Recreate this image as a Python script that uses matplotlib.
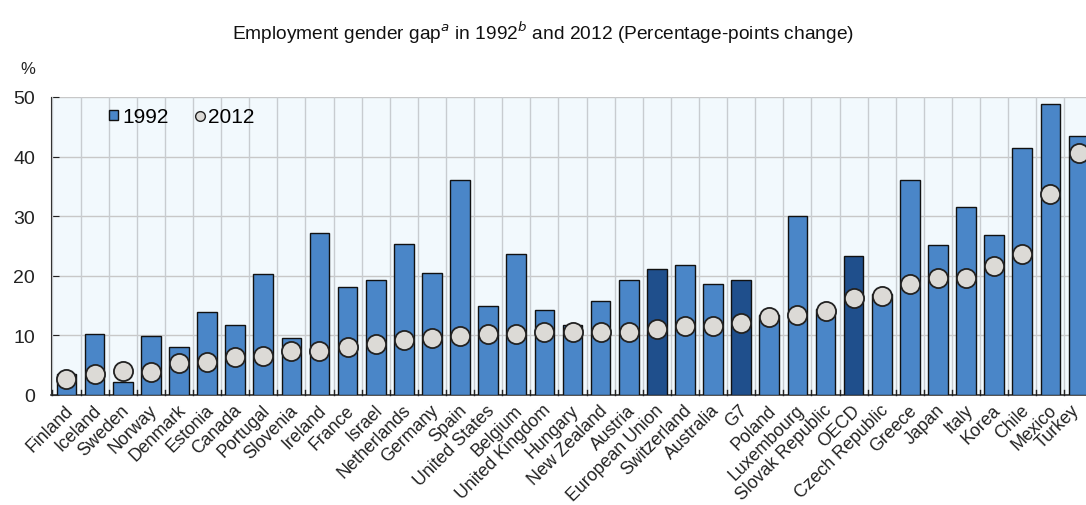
import numpy as np
import matplotlib.pyplot as plt
from matplotlib.lines import Line2D
from matplotlib.patches import Patch

countries = ['Finland', 'Iceland', 'Sweden', 'Norway', 'Denmark', 'Estonia', 'Canada',
             'Portugal', 'Slovenia', 'Ireland', 'France', 'Israel', 'Netherlands',
             'Germany', 'Spain', 'United States', 'Belgium', 'United Kingdom', 'Hungary',
             'New Zealand', 'Austria', 'European Union', 'Switzerland', 'Australia', 'G7',
             'Poland', 'Luxembourg', 'Slovak Republic', 'OECD', 'Czech Republic', 'Greece',
             'Japan', 'Italy', 'Korea', 'Chile', 'Mexico', 'Turkey']
gap_1992 = [3.6, 10.2, 2.1, 9.9, 8.1, 14.0, 11.8, 20.3, 9.6, 27.2, 18.1, 19.3, 25.3,
            20.5, 36.0, 14.9, 23.7, 14.3, 11.7, 15.8, 19.3, 21.1, 21.8, 18.6, 19.3,
            13.5, 30.0, 14.5, 23.3, 17.0, 36.0, 25.2, 31.6, 26.8, 41.4, 48.9, 43.5]
gap_2012 = [2.7, 3.6, 4.1, 3.9, 5.3, 5.5, 6.4, 6.5, 7.3, 7.4, 8.1, 8.5, 9.3,
            9.6, 9.9, 10.3, 10.3, 10.6, 10.6, 10.6, 10.6, 11.1, 11.5, 11.5, 12.1,
            13.1, 13.4, 14.1, 16.3, 16.6, 18.7, 19.7, 19.7, 21.6, 23.6, 33.7, 40.6]
aggregates = ['European Union', 'G7', 'OECD']

font = ['Liberation Sans Narrow', 'Liberation Sans', 'DejaVu Sans']
plt.rcParams['font.family'] = font

light = '#4a86c8'
dark = '#1f4f8c'
colors = [dark if c in aggregates else light for c in countries]

fig = plt.figure(figsize=(10.86, 5.06), dpi=100)
ax = fig.add_axes([51 / 1086, 1 - 396 / 506, 1043 / 1086, 298 / 506])
ax.set_facecolor('#f2f9fd')

x = np.arange(len(countries))
ax.bar(x, gap_1992, width=0.7, color=colors, edgecolor='#111111', linewidth=1.0, zorder=3)
ax.scatter(x, gap_2012, s=190, color='#dcdad6', edgecolor='#222222', linewidth=1.3, zorder=4)

ax.set_xlim(-0.55, len(countries) - 0.45)
ax.set_ylim(0, 50)
ax.set_yticks(range(0, 51, 10))
ax.set_xticks(x)
ax.set_xticklabels([])
ax.tick_params(axis='x', length=0)
ax.tick_params(axis='y', direction='in', length=6, labelsize=14, colors='#222222',
               pad=11.5)

# category labels drawn by hand so the last one can be nudged inside the figure
for i, c in enumerate(countries):
    dx = -6 if i == len(countries) - 1 else -1.5
    ax.annotate(c, xy=(x[i], 0), xycoords=('data', 'axes fraction'),
                xytext=(dx, -4.5), textcoords='offset points',
                rotation=45, ha='right', va='top', rotation_mode='anchor',
                fontsize=12.8, color='#222222', annotation_clip=False)

# vertical grid between categories, horizontal grid at ticks
for b in np.arange(-0.5, len(countries), 1.0):
    ax.axvline(b, color='#c8ccd0', linewidth=1.0, zorder=1)
    ax.plot([b, b], [0, 0.9], color='#222222', linewidth=1.0, zorder=5, clip_on=False)
ax.grid(axis='y', color='#c8c8c8', linewidth=1.0, zorder=1)
ax.set_axisbelow(True)

for s in ['top', 'right']:
    ax.spines[s].set_visible(False)
ax.spines['left'].set_color('#333333')
ax.spines['bottom'].set_color('#333333')
ax.spines['bottom'].set_linewidth(1.2)

fig.text(28 / 1086, 1 - 70 / 506, '%', fontsize=12, color='#222222', ha='center', va='center')

handles = [Patch(facecolor=light, edgecolor='#111111', label='1992'),
           Line2D([], [], marker='o', linestyle='none', markersize=7,
                  markerfacecolor='#dcdad6', markeredgecolor='#222222', label='2012')]
leg = ax.legend(handles=handles, loc='upper left', bbox_to_anchor=(0.056, 0.965), ncol=2,
                frameon=False, fontsize=15, handlelength=0.4, handleheight=0.4,
                handletextpad=0.2, columnspacing=1.3, borderpad=0, borderaxespad=0)

fig.text(0.5, 1 - 33 / 506,
         'Employment gender gap$^{a}$ in 1992$^{b}$ and 2012 (Percentage-points change)',
         ha='center', va='center', fontsize=13.8, color='#111111',
         family=['Liberation Sans', 'DejaVu Sans'])

plt.savefig('out.png', dpi=100)
